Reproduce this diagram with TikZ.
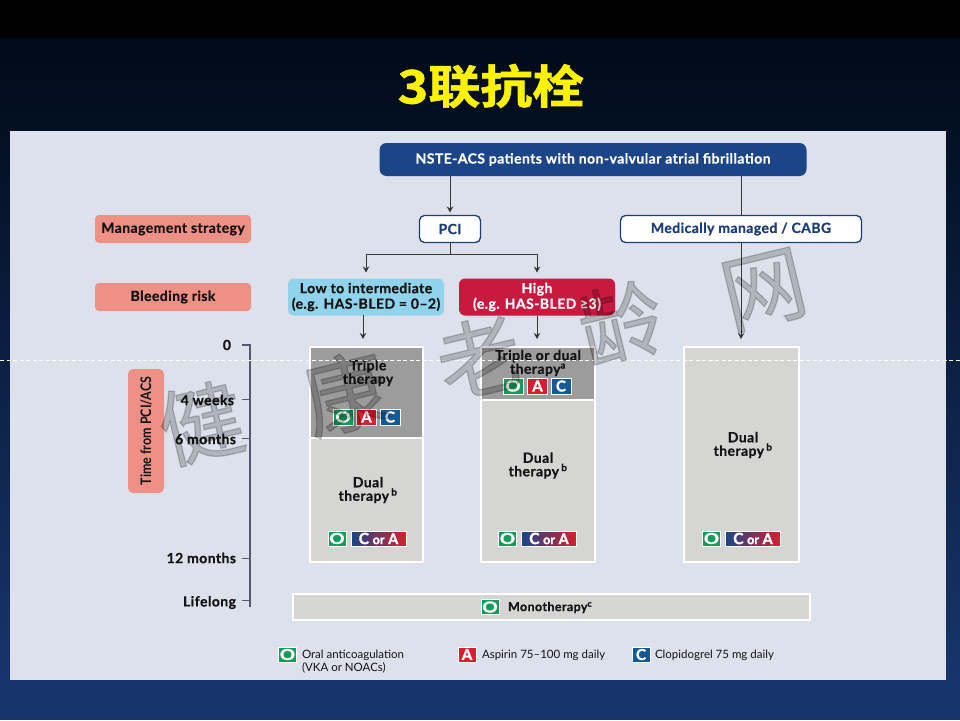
\documentclass[tikz,border=0pt]{standalone}
\usepackage{fontspec}
\setmainfont{Lato}[BoldFont={Lato Bold}]
\newfontfamily\bxf[FakeBold=0.6,LetterSpace=3]{Lato Bold}
\newfontfamily\hvy[FakeBold=1.8]{Lato Bold}
\newfontfamily\cjktitle[FakeBold=1.4]{Noto Sans CJK SC Bold}
\newfontfamily\cjkmark[FakeBold=1.5]{Noto Sans CJK SC}
\usetikzlibrary{arrows.meta,calc}
\definecolor{navy}{HTML}{1B4587}
\definecolor{navytxt}{HTML}{1C3D78}
\definecolor{panel}{HTML}{DDE1EC}
\definecolor{salmon}{HTML}{EE9085}
\definecolor{skyb}{HTML}{8FD3EC}
\definecolor{crim}{HTML}{C8193F}
\definecolor{darkbox}{HTML}{9C9C9C}
\definecolor{lightbox}{HTML}{D5D5D3}
\definecolor{ink}{HTML}{141414}
\definecolor{axisc}{HTML}{555A70}
\definecolor{bgend}{HTML}{17356B}
\definecolor{bgtop}{HTML}{000A18}
\definecolor{grn}{HTML}{169A5A}
\definecolor{redb}{HTML}{D6202F}
\definecolor{blub}{HTML}{125A96}
\definecolor{wmc}{HTML}{CCCCCC}
\tikzset{
  bx/.style={inner sep=0pt,outer sep=0pt,align=center,font=\bxf\fontsize{14}{13.5}\selectfont,text=ink},
  labelsalmon/.style={bx,fill=salmon,rounded corners=4pt,minimum width=156pt,minimum height=28pt},
  risk/.style={bx,rounded corners=6pt,minimum width=156pt,minimum height=37pt,font=\bxf\fontsize{14}{15.5}\selectfont},
  whitebox/.style={bx,fill=white,draw=navytxt,line width=1.3pt,rounded corners=5pt,text=navytxt,minimum height=27pt},
  tbox/.style={bx,draw=white,line width=2pt,anchor=north west},
  txt/.style={bx},
  tick/.style={bx,anchor=east},
  legend/.style={inner sep=0pt,outer sep=0pt,anchor=west,align=left,font=\fontsize{11.5}{13}\selectfont,text=ink},
  badge/.style={inner sep=0pt,outer sep=0pt,draw=white,line width=.5pt,minimum width=20pt,minimum height=16pt,text=white,font=\hvy\fontsize{15}{15}\selectfont},
  obadge/.style={badge,fill=grn},
  abadge/.style={badge,fill=redb},
  cbadge/.style={badge,fill=blub},
  sob/.style={obadge,minimum width=18pt,minimum height=15pt},
  sab/.style={abadge,minimum width=18pt,minimum height=15pt},
  scb/.style={cbadge,minimum width=18pt,minimum height=15pt},
  cora/.style={badge,left color=navy,right color=redb,minimum width=55pt,minimum height=15pt},
  conn/.style={draw=ink!85,line width=.9pt},
  arr/.style={conn,-{Stealth[length=6pt,width=6.5pt]}},
  wmark/.style={inner sep=0pt,text=wmc,font=\cjkmark\fontsize{84}{84}\selectfont,rotate=13.5},
}
\newcommand{\Obig}{\scalebox{1.25}[1]{O}}
\newcommand{\CorA}{{\fontsize{15.5}{15.5}\selectfont C} {\fontsize{12.5}{12.5}\selectfont or} {\fontsize{14.5}{14.5}\selectfont A}}
\begin{document}
\begin{tikzpicture}[x=1pt,y=-1pt]
\useasboundingbox (0,0) rectangle (960,720);
% background
\fill[black] (0,0) rectangle (960,38);
\shade[top color=bgtop,bottom color=bgend] (0,38) rectangle (960,680);
\fill[bgend] (0,680) rectangle (960,720);
\fill[panel] (10,131) rectangle (946,680);
% title
\node[inner sep=0pt,text=yellow,xscale=1.13] (title) at (491,86) {\cjktitle\fontsize{46}{46}\selectfont 3联抗栓};
% flow nodes
\node[bx,fill=navy,text=white,rounded corners=7pt,minimum width=427pt,minimum height=33pt] (hdr) at (593,159.5) {NSTE-ACS patients with non-valvular atrial fibrillation};
\node[labelsalmon] (ms) at (173,229) {Management strategy};
\node[labelsalmon] (br) at (173,297) {Bleeding risk};
\node[whitebox,minimum width=61pt] (pci) at (450,229) {PCI};
\node[whitebox,minimum width=241pt] (med) at (741,229) {Medically managed / CABG};
\node[risk,fill=skyb] (low) at (366,297) {Low to intermediate\\(e.g. HAS-BLED = 0–2)};
\node[risk,fill=crim,text=white] (high) at (537,297) {High\\(e.g. HAS-BLED ≥3)};
% therapy boxes
\node[tbox,fill=darkbox,minimum width=113pt,minimum height=91pt] (t1) at (310,347) {};
\node[tbox,fill=lightbox,minimum width=113pt,minimum height=124pt] (d1) at (310,438) {};
\node[tbox,fill=darkbox,minimum width=114pt,minimum height=53pt] (t2) at (480.5,347) {};
\node[tbox,fill=lightbox,minimum width=114pt,minimum height=162pt] (d2) at (480.5,400) {};
\node[tbox,fill=lightbox,minimum width=115pt,minimum height=215pt] (d3) at (684,347) {};
\node[tbox,fill=lightbox,minimum width=517pt,minimum height=26pt] (mono) at (293,594) {};
% therapy text
\node[txt] (t1t) at (368,373) {Triple\\therapy};
\node[txt] (t2t) at (538,363) {Triple or dual\\therapy\textsuperscript{a}};
\node[txt] (d1t) at (368,490) {Dual\\therapy\,\textsuperscript{b}};
\node[txt] (d2t) at (538,465.5) {Dual\\therapy\,\textsuperscript{b}};
\node[txt] (d3t) at (743,445) {Dual\\therapy\,\textsuperscript{b}};
\node[txt,anchor=west,font=\bxf\fontsize{12.5}{13}\selectfont] (mt) at (508,607.5) {Monotherapy\textsuperscript{c}};
% badges
\node[obadge] (o1) at (343,417) {\Obig};
\node[abadge] (a1) at (366.5,417) {A};
\node[cbadge] (c1) at (390,417) {C};
\node[obadge] (o2) at (513,386) {\Obig};
\node[abadge] (a2) at (537.5,386) {A};
\node[cbadge] (c2) at (561,386) {C};
\node[sob] (o3) at (337,538.5) {\Obig};
\node[cora] (ca1) at (378.5,538.5) {\CorA};
\node[sob] (o4) at (507.5,538.5) {\Obig};
\node[cora] (ca2) at (549,538.5) {\CorA};
\node[sob] (o5) at (711.5,538.5) {\Obig};
\node[cora] (ca3) at (753,538.5) {\CorA};
\node[sob] (o6) at (490,607) {\Obig};
% legend
\node[sob] (lo) at (287.5,654.5) {\Obig};
\node[legend] (lot) at (302,661.5) {Oral anticoagulation\\(VKA or NOACs)};
\node[sab] (la) at (467,654.5) {A};
\node[legend] (lat) at (482,655) {Aspirin 75--100 mg daily};
\node[scb] (lc) at (641,654.5) {C};
\node[legend] (lct) at (655,655) {Clopidogrel 75 mg daily};
% time axis
\node[fill=salmon,rounded corners=5pt,inner sep=0pt,outer sep=0pt,minimum width=36pt,minimum height=124pt] (timebox) at (146,431) {};
\node[rotate=90,inner sep=0pt,text=ink,font=\fontsize{14.5}{14.5}\selectfont\bfseries,xscale=.86] (timetxt) at (146,431) {Time from PCI/ACS};
\coordinate (atop) at (250,345);
\coordinate (abot) at (250,607);
\draw[axisc,line width=1.2pt] (242,345) -- (atop) -- (abot);
\coordinate (k4) at (250,399);
\coordinate (k6) at (250,438.5);
\coordinate (k12) at (250,558);
\coordinate (kl) at (250,600);
\draw[axisc,line width=1pt] (242,399) -- (k4) (242,438.5) -- (k6) (242,558) -- (k12) (242,600) -- (kl);
\node[tick] (l0) at (231,345) {0};
\node[tick] (l4) at (234,400) {4 weeks};
\node[tick] (l6) at (236,439) {6 months};
\node[tick] (l12) at (236,558) {12 months};
\node[tick] (ll) at (236,602.5) {Lifelong};
% connectors
\coordinate (splt) at (450,254);
\coordinate (splL) at (366,254);
\coordinate (splR) at (537,254);
\coordinate (lowout) at (363,315);
\coordinate (lowin) at (363,339);
\draw[arr] (hdr.south -| pci.north) -- ([yshift=3pt]pci.north);
\draw[conn] (hdr.south -| med.north) -- (med.north);
\draw[conn] (pci.south) -- (splt);
\draw[arr] (splt) -- (splL) -- ([yshift=6pt]low.north);
\draw[arr] (splt) -- (splR) -- ([yshift=6pt]high.north);
\draw[arr] (lowout) -- (lowin);
\draw[arr] (high.south) -- ([yshift=8pt]t2.north -| high.south);
\draw[arr] (med.south) -- ([yshift=8pt]d3.north -| med.south);
% dashed line
\coordinate (dl) at (0,360);
\coordinate (dr) at (960,360);
\draw[white,line width=.8pt,dash pattern=on 4pt off 2.5pt] (dl) -- (dr);
% watermark
\begin{scope}[blend mode=multiply]
\node[wmark] (w1) at (201,423) {健};
\node[wmark] (w2) at (345,393) {康};
\node[wmark] (w3) at (479,357) {老};
\node[wmark] (w4) at (621,323) {龄};
\node[wmark] (w5) at (764,290) {网};
\end{scope}
\end{tikzpicture}
\end{document}
